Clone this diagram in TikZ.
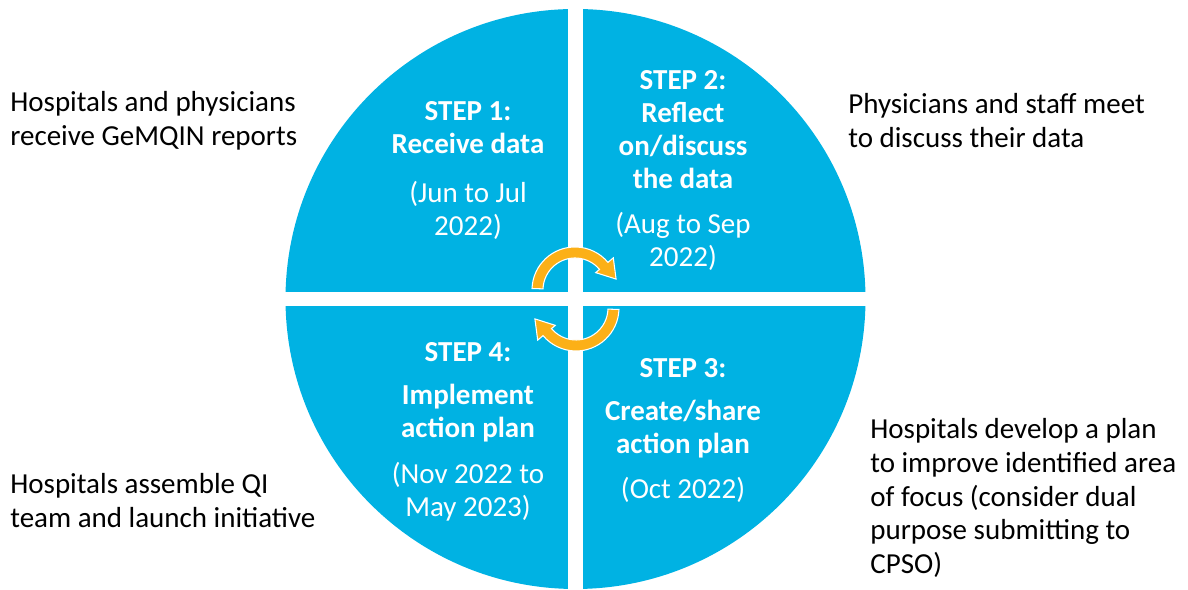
\documentclass[tikz,border=0pt]{standalone}
\usepackage{fontspec}
\setmainfont{Carlito}
\definecolor{stepblue}{RGB}{0,178,227}
\definecolor{cyclegold}{RGB}{252,176,23}

\begin{document}
\begin{tikzpicture}[x=0.02cm,y=0.02cm,
  steptext/.style={text=white,align=center,font=\fontsize{16.5}{18.8}\selectfont},
  stephead/.style={steptext,font=\fontsize{16.5}{18.8}\selectfont\bfseries},
  sidetext/.style={anchor=west,align=left,inner sep=0pt,font=\fontsize{16.5}{19.3}\selectfont},
  cyclearrow/.style={fill=cyclegold,draw=white,line width=0.6pt}]
\useasboundingbox (0,0) rectangle (1188,590);

% disc cut in four by a white cross
\fill[stepblue] (575.5,291) circle[radius=290];
\draw[white,line width=0.3cm] (575.5,0) -- (575.5,590);
\draw[white,line width=0.28cm] (280,291) -- (871,291);

% the two round arrows in the middle
\begin{scope}[shift={(575,300)}]
\filldraw[cyclearrow] (178:43) arc[start angle=178,end angle=40,radius=43]
  -- (40:50) -- (41.1,10.9) -- (40:27) -- (40:32)
  arc[start angle=40,end angle=178,radius=32] -- cycle;
\end{scope}
\begin{scope}[shift={(576,282)},rotate=180]
\filldraw[cyclearrow] (178:43) arc[start angle=178,end angle=40,radius=43]
  -- (40:50) -- (41.1,10.9) -- (40:27) -- (40:32)
  arc[start angle=40,end angle=178,radius=32] -- cycle;
\end{scope}

% step 1
\node (s1head) at (468,462.5) [stephead] {STEP 1:\\Receive data};
\node (s1date) at (468,379.5) [steptext] {(Jun to Jul\\2022)};
% step 2
\node (s2head) at (683,460) [stephead] {STEP 2:\\Reflect\\on/discuss\\the data};
\node (s2date) at (683,349) [steptext] {(Aug to Sep\\2022)};
% step 3
\node (s3head) at (683,222) [stephead] {STEP 3:};
\node (s3body) at (683,161) [stephead] {Create/share\\action plan};
\node (s3date) at (683,100) [steptext] {(Oct 2022)};
% step 4
\node (s4head) at (468,238) [stephead] {STEP 4:};
\node (s4body) at (468,177) [stephead] {Implement\\action plan};
\node (s4date) at (468,98.5) [steptext] {(Nov 2022 to\\May 2023)};

% notes beside the disc
\node (n1) at (10,469) [sidetext] {Hospitals and physicians\\receive GeMQIN reports};
\node (n2) at (848,469) [sidetext] {Physicians and staff meet\\to discuss their data};
\node (n3) at (870,92) [sidetext] {Hospitals develop a plan\\to improve identified area\\of focus (consider dual\\purpose submitting to\\CPSO)};
\node (n4) at (10,89.5) [sidetext] {Hospitals assemble QI\\team and launch initiative};
\end{tikzpicture}
\end{document}
